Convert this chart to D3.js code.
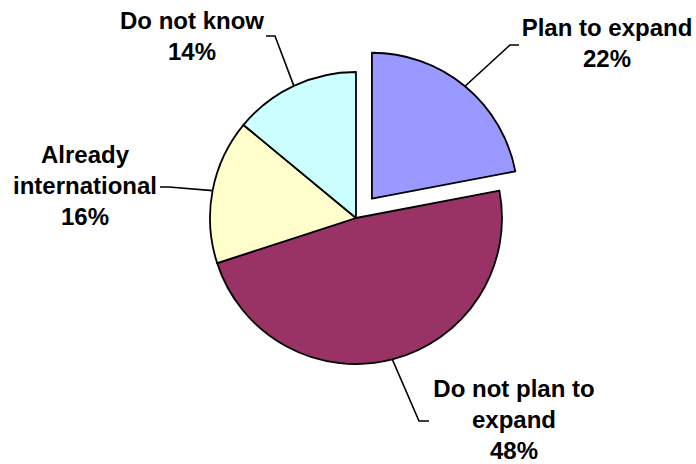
<!DOCTYPE html>
<html>
<head>
<meta charset="utf-8">
<script src="https://cdn.jsdelivr.net/npm/d3@7"></script>
<style>
  html, body { margin: 0; padding: 0; background: #fff; }
  svg { display: block; }
  text { font-family: "Liberation Sans", Arial, sans-serif; font-weight: bold; font-size: 24px; fill: #000; }
</style>
</head>
<body>
<svg id="chart" width="696" height="464"></svg>
<script>
// Survey answers, clockwise from 12 o'clock
const categories = ["Plan to expand", "Do not plan to expand", "Already international", "Do not know"];
const shares = [22, 48, 16, 14];
const labelLines = [["Plan to expand"], ["Do not plan to", "expand"], ["Already", "international"], ["Do not know"]];
const colors = ["#9999FF", "#993366", "#FFFFCC", "#CCFFFF"];

// Layout: pie geometry and label placement
const cx = 356, cy = 218, radius = 146, explode = 25;
const exploded = [true, false, false, false];
const labelLayout = [
  { x: 607, y: 36, elbow: [[510, 45], [519, 45]] },
  { x: 514, y: 397, elbow: [[419, 421], [429, 421]] },
  { x: 85, y: 163, elbow: [[169, 187], [160, 187]] },
  { x: 192, y: 29, elbow: [[275, 36], [266, 36]] }
];
const lineHeight = 31;

const svg = d3.select("#chart");
const g = svg.append("g").attr("transform", `translate(${cx},${cy})`);

const pie = d3.pie().sort(null).value(d => d.value);
const arcs = pie(categories.map((c, i) => ({ name: c, value: shares[i], i })));
const arc = d3.arc().innerRadius(0).outerRadius(radius);

function offset(d) {
  if (!exploded[d.data.i]) return [0, 0];
  const a = (d.startAngle + d.endAngle) / 2;
  return [explode * Math.sin(a), -explode * Math.cos(a)];
}

g.selectAll("path.slice")
  .data(arcs)
  .join("path")
  .attr("class", "slice")
  .attr("d", arc)
  .attr("transform", d => `translate(${offset(d)})`)
  .attr("fill", d => colors[d.data.i])
  .attr("stroke", "#000")
  .attr("stroke-width", 1.8)
  .attr("stroke-linejoin", "round");

// Leader lines: from the slice edge at its mid-angle to the label elbow
const line = d3.line();
arcs.forEach(d => {
  const i = d.data.i;
  const a = (d.startAngle + d.endAngle) / 2;
  const [ox, oy] = offset(d);
  const start = [cx + ox + radius * Math.sin(a), cy + oy - radius * Math.cos(a)];
  svg.append("path")
    .attr("d", line([start, ...labelLayout[i].elbow]))
    .attr("fill", "none")
    .attr("stroke", "#000")
    .attr("stroke-width", 1.6);
});

// Category name and percentage
arcs.forEach(d => {
  const i = d.data.i;
  const L = labelLayout[i];
  const lines = [...labelLines[i], d3.format("d")(d.data.value) + "%"];
  const t = svg.append("text").attr("text-anchor", "middle");
  lines.forEach((s, k) => {
    t.append("tspan").attr("x", L.x).attr("y", L.y + k * lineHeight).text(s);
  });
});
</script>
</body>
</html>
